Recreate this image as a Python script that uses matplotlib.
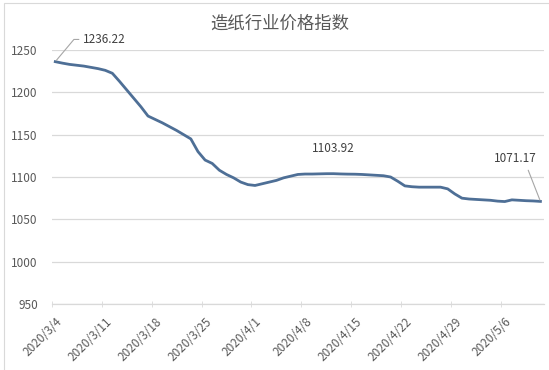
import datetime as dt
import matplotlib
matplotlib.use("Agg")
import matplotlib.pyplot as plt
from matplotlib.patches import Rectangle

plt.rcParams['font.family'] = ['Noto Sans CJK SC', 'DejaVu Sans']

TITLE = '造纸行业价格指数'

# daily index values, 2020/3/4 .. 2020/5/11
start = dt.date(2020, 3, 4)
values = [
    1236.22, 1234.5, 1233.0, 1232.0, 1231.0, 1229.5, 1228.0, 1226.0, 1222.5, 1213.0,
    1203.0, 1193.0, 1183.0, 1172.0, 1168.0, 1164.0, 1159.5, 1155.0, 1150.0, 1145.0,
    1130.0, 1120.0, 1116.0, 1108.0, 1103.0, 1099.0, 1094.0, 1091.0, 1090.0, 1092.0,
    1094.0, 1096.0, 1099.0, 1101.0, 1103.0, 1103.5, 1103.5, 1103.7, 1103.9, 1103.92,
    1103.6, 1103.4, 1103.3, 1103.0, 1102.5, 1102.0, 1101.5, 1100.0, 1095.0, 1089.5,
    1088.5, 1088.0, 1088.0, 1088.0, 1088.0, 1086.0, 1080.0, 1075.0, 1074.0, 1073.5,
    1073.0, 1072.5, 1071.5, 1071.0, 1073.0, 1072.5, 1072.0, 1071.7, 1071.17,
]
dates = [start + dt.timedelta(days=i) for i in range(len(values))]
labels = [f'{d.year}/{d.month}/{d.day}' for d in dates]

# points that carry a data label
labelled = [0, 39, len(values) - 1]

GRID = '#d9d9d9'
TEXT = '#595959'
LEADER = '#a6a6a6'

fig = plt.figure(figsize=(5.49, 3.7), dpi=100)
fig.patch.set_facecolor('white')
fig.add_artist(Rectangle((4 / 549, -0.1), 1.2, 1 - 3 / 370 + 0.1, transform=fig.transFigure,
                         fill=False, edgecolor=GRID, linewidth=0.8))

ax = fig.add_axes([51.7 / 549, 1 - 304 / 370, (544 - 51.7) / 549, (304 - 50) / 370])
x = list(range(len(values)))
ax.plot(x, values, color='#4e6f96', linewidth=2.0, solid_joinstyle='round')

ax.set_xlim(-0.5, len(values) - 0.5)
ax.set_ylim(950, 1250)
ax.set_yticks(range(950, 1251, 50))
ax.grid(axis='y', color=GRID, linewidth=0.9)
ax.set_axisbelow(True)
for side in ['top', 'right', 'left']:
    ax.spines[side].set_visible(False)
ax.spines['bottom'].set_color(GRID)
ax.spines['bottom'].set_linewidth(0.9)

ax.tick_params(axis='y', length=0, labelsize=8.5, labelcolor=TEXT, pad=10)
ax.set_xticks(x[::7])
ax.set_xticklabels(labels[::7], rotation=45, ha='right', rotation_mode='anchor')
ax.tick_params(axis='x', which='major', length=0, labelsize=8.5, labelcolor=TEXT, pad=8)
ax.set_xticks([i - 0.5 for i in x[::7]], minor=True)
ax.tick_params(axis='x', which='minor', length=4, color=GRID, direction='inout')

fig.text(280 / 549, 1 - 24 / 370, TITLE, ha='center', va='center', fontsize=12.5, color=TEXT)

# data labels
i0, i1, i2 = labelled
ax.annotate(f'{values[i0]:.2f}', xy=(i0, values[i0]), xytext=(20, 16), textcoords='offset points',
            fontsize=8.5, color='#404040', va='center', ha='left',
            arrowprops=dict(arrowstyle='-', color=LEADER, lw=0.8, shrinkA=1, shrinkB=1,
                            relpos=(0, 0.5),
                            connectionstyle='angle,angleA=180,angleB=50,rad=0'))
ax.annotate(f'{values[i1]:.2f}', xy=(i1, values[i1]), xytext=(0, 18), textcoords='offset points',
            fontsize=8.5, color='#404040', ha='center', va='center')
ax.annotate(f'{values[i2]:.2f}', xy=(i2, values[i2]), xytext=(-18, 31), textcoords='offset points',
            fontsize=8.5, color='#404040', ha='center', va='center',
            arrowprops=dict(arrowstyle='-', color=LEADER, lw=0.8, shrinkA=2, shrinkB=1,
                            relpos=(0.75, 0)))

plt.savefig('out.png', dpi=100, facecolor=fig.get_facecolor())
